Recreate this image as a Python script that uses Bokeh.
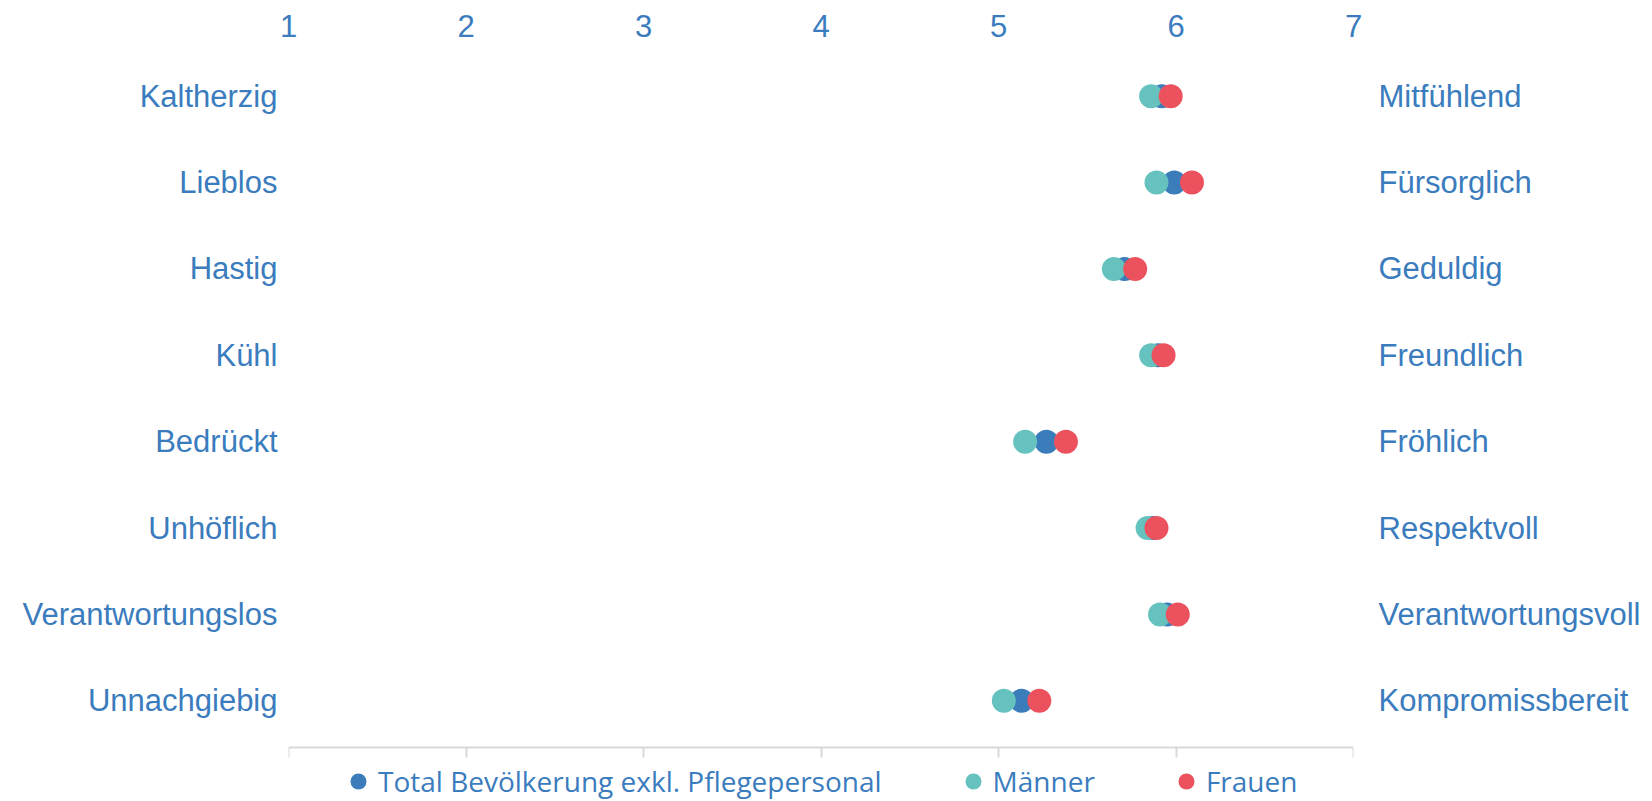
from bokeh.plotting import figure
from bokeh.models import (LinearAxis, FixedTicker, Range1d, Legend, LegendItem,
                          ColumnDataSource, CustomJSTickFormatter)
from bokeh.embed import file_html
from bokeh.resources import INLINE

# ---- data ----
left_labels = ["Kaltherzig", "Lieblos", "Hastig", "Kühl", "Bedrückt",
               "Unhöflich", "Verantwortungslos", "Unnachgiebig"]
right_labels = ["Mitfühlend", "Fürsorglich", "Geduldig", "Freundlich", "Fröhlich",
                "Respektvoll", "Verantwortungsvoll", "Kompromissbereit"]
total = [5.92, 5.99, 5.71, 5.90, 5.27, 5.87, 5.95, 5.13]
maenner = [5.86, 5.89, 5.65, 5.86, 5.15, 5.84, 5.91, 5.03]
frauen = [5.97, 6.09, 5.77, 5.93, 5.38, 5.89, 6.01, 5.23]
scale_ticks = [1, 2, 3, 4, 5, 6, 7]
series_names = ["Total Bevölkerung exkl. Pflegepersonal", "Männer", "Frauen"]

BLUE = "#3b7cba"
TEAL = "#66c2be"
RED = "#ec525e"
TXT = "#3a7cbd"

n = len(left_labels)
ypos = [n - i for i in range(n)]
AXIS_Y = 0.456  # data position of the light-grey scale line below the last row

p = figure(frame_width=1065, frame_height=749, output_backend="svg", toolbar_location=None,
           x_range=Range1d(1, 7), y_range=Range1d(-0.166, 8.506),
           x_axis_type=None, y_axis_type=None,
           min_border_left=288, min_border_right=299,
           min_border_top=52, min_border_bottom=0)
p.outline_line_color = None
p.background_fill_color = "white"
p.border_fill_color = "white"

ytick = FixedTicker(ticks=ypos)

def style_label_axis(ax, labels, standoff):
    ax.ticker = ytick
    ax.major_label_overrides = {y: lab for y, lab in zip(ypos, labels)}
    ax.axis_line_color = None
    ax.major_tick_line_color = None
    ax.minor_tick_line_color = None
    ax.major_tick_out = 0
    ax.major_tick_in = 0
    ax.major_label_standoff = standoff
    ax.major_label_text_font = "Liberation Sans"
    ax.major_label_text_font_size = "31px"
    ax.major_label_text_color = TXT

left_ax = LinearAxis()
style_label_axis(left_ax, left_labels, 11)
p.add_layout(left_ax, "left")

right_ax = LinearAxis()
style_label_axis(right_ax, right_labels, 25)
p.add_layout(right_ax, "right")

top_ax = LinearAxis(ticker=FixedTicker(ticks=scale_ticks))
top_ax.axis_line_color = None
top_ax.major_tick_line_color = None
top_ax.minor_tick_line_color = None
top_ax.major_tick_out = 0
top_ax.major_tick_in = 0
top_ax.major_label_standoff = 16
top_ax.major_label_text_font = "Liberation Sans"
top_ax.major_label_text_font_size = "31px"
top_ax.major_label_text_color = TXT
p.add_layout(top_ax, "above")

# scale line with downward ticks, drawn at a fixed data position under the last row
line_ax = LinearAxis(ticker=FixedTicker(ticks=scale_ticks),
                     formatter=CustomJSTickFormatter(code="return ''"),
                     fixed_location=AXIS_Y)
line_ax.axis_line_color = "#d9d9d9"
line_ax.axis_line_width = 2
line_ax.major_tick_line_color = "#d9d9d9"
line_ax.major_tick_line_width = 2
line_ax.minor_tick_line_color = None
line_ax.major_tick_out = 0
line_ax.major_tick_in = 10
line_ax.major_label_standoff = 0
line_ax.major_label_text_font_size = "1px"
p.add_layout(line_ax, "above")

src = ColumnDataSource(dict(y=ypos, total=total, maenner=maenner, frauen=frauen))
r_total = p.scatter("total", "y", source=src, size=24, fill_color=BLUE, line_color=None)
r_m = p.scatter("maenner", "y", source=src, size=24, fill_color=TEAL, line_color=None)
r_f = p.scatter("frauen", "y", source=src, size=24, fill_color=RED, line_color=None)

legend = Legend(items=[LegendItem(label=series_names[0], renderers=[r_total]),
                       LegendItem(label=series_names[1], renderers=[r_m]),
                       LegendItem(label=series_names[2], renderers=[r_f])],
                orientation="horizontal", location=(50, 0),
                label_text_font="Open Sans", label_text_font_size="28px",
                label_text_color=TXT, border_line_color=None,
                background_fill_alpha=0, padding=0, margin=0, spacing=71,
                glyph_width=40, glyph_height=40, label_standoff=0)
p.add_layout(legend, "center")

open("out.html", "w").write(file_html(p, INLINE))
